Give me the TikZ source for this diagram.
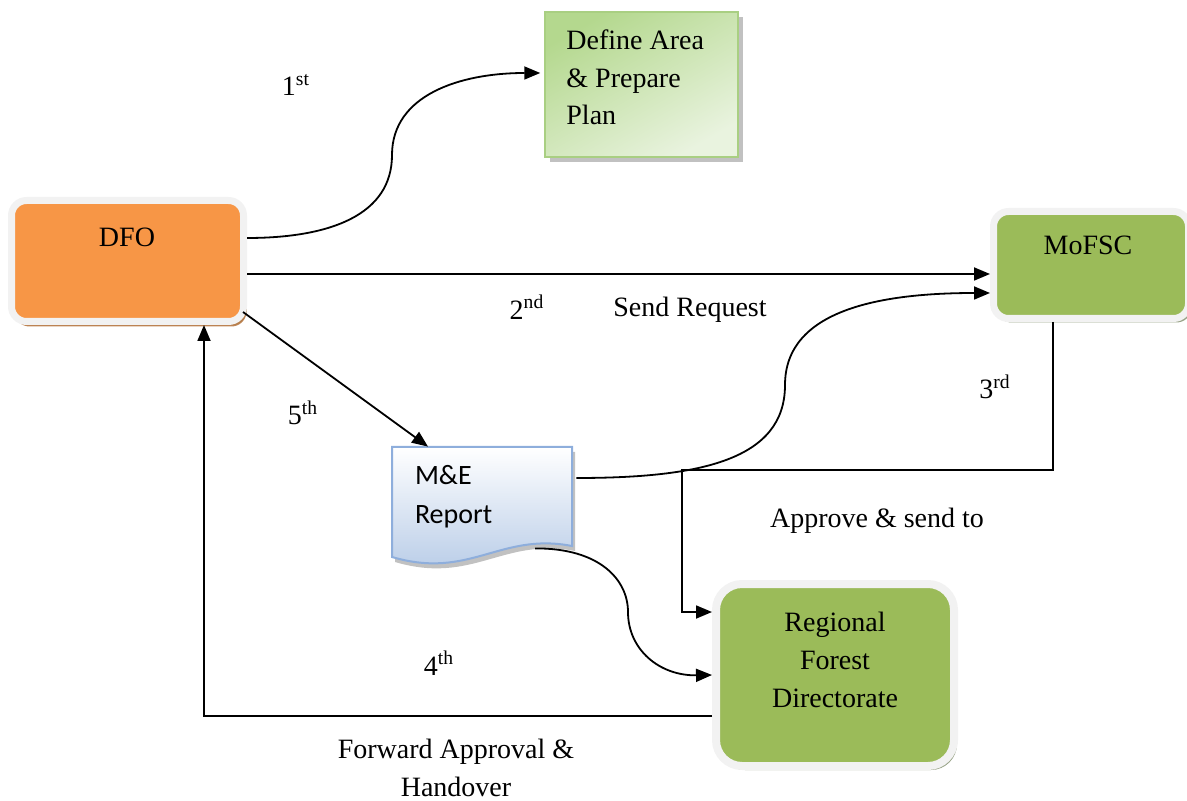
\documentclass[tikz,border=0pt]{standalone}
\usepackage{fontspec}
\setmainfont{Liberation Serif}
\newfontfamily\calibri{Carlito}
\usetikzlibrary{arrows.meta,calc,shadows}
\definecolor{dfoorange}{HTML}{F79646}
\definecolor{boxgreen}{HTML}{9BBB59}
\definecolor{ringgray}{HTML}{F2F2F2}
\definecolor{defgreen}{HTML}{B4D88E}
\definecolor{palegreen}{HTML}{E9F3DF}
\definecolor{defedge}{HTML}{A9CF82}
\definecolor{docblue}{HTML}{B4C9E6}
\definecolor{docedge}{HTML}{8EAEDC}
\definecolor{dfoshadow}{HTML}{B97A45}
\definecolor{greenshadow}{HTML}{7E8C69}
\begin{document}
\begin{tikzpicture}[x=0.5pt,y=0.5pt,
    font=\fontsize{14}{19}\selectfont,
    roundbox/.style={draw=ringgray,line width=3.5pt,rounded corners=7.5pt,inner sep=0pt,
        drop shadow={shadow xshift=1.5pt,shadow yshift=-2pt,fill=greenshadow,opacity=0.8}},
    link/.style={line width=0.9pt,-{Triangle[length=8pt,width=6.5pt]}}]
\useasboundingbox (0,0) rectangle (1187,-801);

% boxes
\node[roundbox,fill=dfoorange,minimum width=116pt,minimum height=60.5pt,
    drop shadow={shadow xshift=1.5pt,shadow yshift=-2.5pt,fill=dfoshadow,opacity=0.9}] (dfo) at (127.5,-261) {};
\node (dfotext) at (127,-237) {DFO};

\node[draw=defedge,line width=0.75pt,top color=defgreen,bottom color=palegreen,shading angle=30,
    minimum width=96.5pt,minimum height=72.5pt,
    drop shadow={shadow xshift=2.5pt,shadow yshift=-2.5pt,fill=gray!70,opacity=0.7}] (def) at (641.5,-84.5) {};
\node[anchor=west,inner sep=0pt,align=left,font=\fontsize{14}{18.75}\selectfont] (deftext) at (566,-77.5)
    {Define Area\\\& Prepare\\Plan};

\node[roundbox,fill=boxgreen,minimum width=97.5pt,minimum height=53.5pt] (mof) at (1091,-265) {};
\node (moftext) at (1088,-245) {MoFSC};

\node[roundbox,fill=boxgreen,line width=4pt,rounded corners=13pt,minimum width=119pt,minimum height=91pt] (rfd) at (835,-675) {};
\node[align=center] (rfdtext) at (835,-660) {Regional\\Forest\\Directorate};

\path[draw=docedge,line width=1pt,top color=white,bottom color=docblue,
    drop shadow={shadow xshift=1.5pt,shadow yshift=-2.5pt,fill=gray!70,opacity=0.7}]
    (392,-447) -- (572,-447) -- (572,-546) .. controls (500,-532) and (470,-580) .. (392,-557) -- cycle;
\node[minimum height=50pt,text width=67pt,inner xsep=11.5pt,align=flush left,
    font=\calibri\fontsize{14}{19.5}\selectfont] (me) at (482,-497) {M\&E\\Report};

% labels
\node (first) at (296,-85) {1\textsuperscript{st}};
\node (second) at (527,-307) {2\textsuperscript{nd}};
\node (send) at (690,-310) {Send Request};
\node (third) at (995,-387) {3\textsuperscript{rd}};
\node (approve) at (877,-521) {Approve \& send to};
\node (fourth) at (439,-663) {4\textsuperscript{th}};
\node[align=center] (forward) at (456,-768) {Forward Approval \&\\Handover};
\node (fifth) at (303,-413) {5\textsuperscript{th}};

\coordinate (bend3) at (682,-470);

% connectors
\draw[link] ($(dfo.east)+(0,23)$) .. controls (330,-238) and (392,-215) .. (392,-155)
    .. controls (392,-95) and (460,-73) .. ($(def.west)+(-4,11.5)$);
\draw[link] ($(dfo.east)+(0,-13)$) -- ($(mof.west)+(0,-9)$);
\draw[link] ($(mof.south)+(-38,0)$) |- (bend3) |- ($(rfd.west)+(0,63)$);
\draw[link] ($(rfd.west)+(0,-41)$) -| ($(dfo.south)+(76.5,0)$);
\draw[link] ($(dfo.south east)+(-4,13)$) -- ($(me.north)+(-54,0)$);
\draw[link] ($(me.east)+(4,19)$) .. controls (700,-478) and (785,-460) .. (785,-385)
    .. controls (785,-310) and (880,-293) .. ($(mof.west)+(0,-28)$);
\draw[link] ($(me.south)+(53,-1)$) .. controls (600,-548) and (628,-580) .. (628,-612)
    .. controls (628,-650) and (660,-676) .. (rfd.west);
\end{tikzpicture}
\end{document}
